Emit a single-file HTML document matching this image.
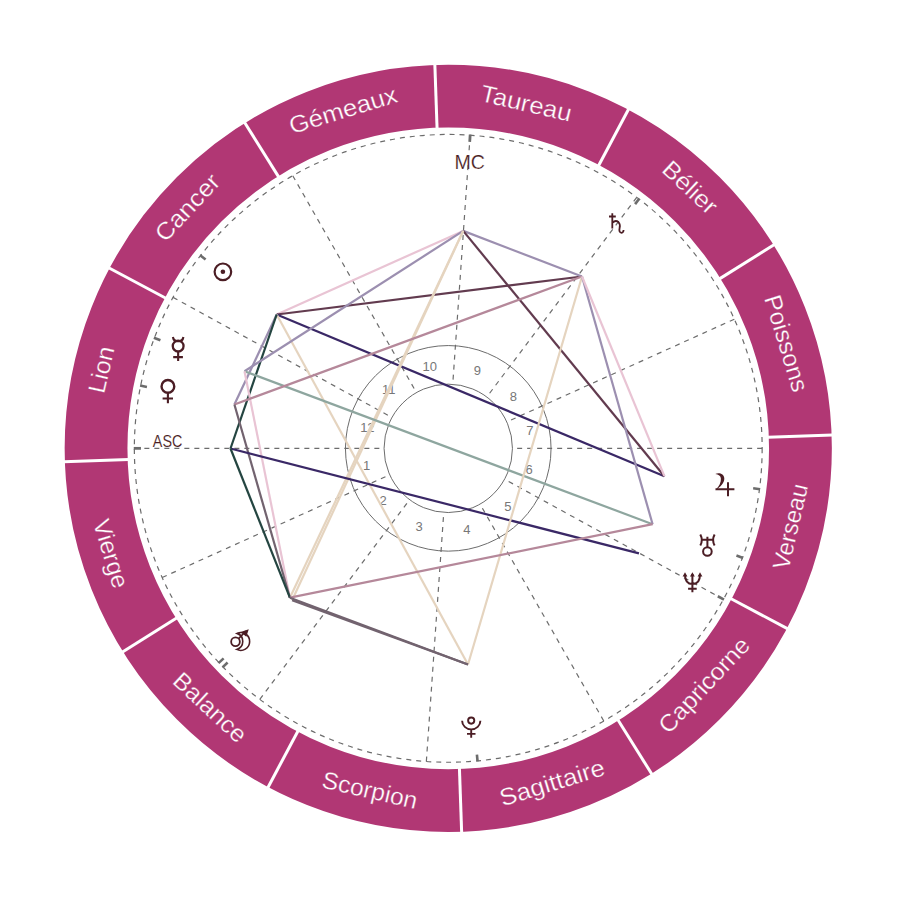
<!DOCTYPE html><html><head><meta charset="utf-8"><style>html,body{margin:0;padding:0;background:#fff;}svg{display:block;}text{font-family:"Liberation Sans",sans-serif;}</style></head><body>
<svg width="897" height="897" viewBox="0 0 897 897">
<circle cx="448.25" cy="448.35" r="352.20" fill="none" stroke="#b13774" stroke-width="62.80"/>
<line x1="767.86" y1="437.19" x2="832.62" y2="434.93" stroke="#fff" stroke-width="3"/>
<line x1="719.46" y1="278.88" x2="774.41" y2="244.54" stroke="#fff" stroke-width="3"/>
<line x1="598.39" y1="165.98" x2="628.81" y2="108.77" stroke="#fff" stroke-width="3"/>
<line x1="437.09" y1="128.74" x2="434.83" y2="63.98" stroke="#fff" stroke-width="3"/>
<line x1="278.78" y1="177.14" x2="244.44" y2="122.19" stroke="#fff" stroke-width="3"/>
<line x1="165.88" y1="298.21" x2="108.67" y2="267.79" stroke="#fff" stroke-width="3"/>
<line x1="128.64" y1="459.51" x2="63.88" y2="461.77" stroke="#fff" stroke-width="3"/>
<line x1="177.04" y1="617.82" x2="122.09" y2="652.16" stroke="#fff" stroke-width="3"/>
<line x1="298.11" y1="730.72" x2="267.69" y2="787.93" stroke="#fff" stroke-width="3"/>
<line x1="459.41" y1="767.96" x2="461.67" y2="832.72" stroke="#fff" stroke-width="3"/>
<line x1="617.72" y1="719.56" x2="652.06" y2="774.51" stroke="#fff" stroke-width="3"/>
<line x1="730.62" y1="598.49" x2="787.83" y2="628.91" stroke="#fff" stroke-width="3"/>
<text transform="translate(785.83 345.14) rotate(73.00)" x="-1.50" y="-1.40" text-anchor="middle" dominant-baseline="central" font-size="24" fill="#fff" stroke="#b13774" stroke-width="0.3" textLength="100.04" lengthAdjust="spacingAndGlyphs">Poissons</text>
<text transform="translate(689.00 190.18) rotate(43.00)" x="-1.06" y="-3.00" text-anchor="middle" dominant-baseline="central" font-size="24" fill="#fff" stroke="#b13774" stroke-width="0.3" textLength="65.67" lengthAdjust="spacingAndGlyphs">Bélier</text>
<text transform="translate(527.66 104.40) rotate(13.00)" x="-1.60" y="-1.10" text-anchor="middle" dominant-baseline="central" font-size="24" fill="#fff" stroke="#b13774" stroke-width="0.3" textLength="92.84" lengthAdjust="spacingAndGlyphs">Taureau</text>
<text transform="translate(345.04 110.77) rotate(-17.00)" x="-1.80" y="-1.50" text-anchor="middle" dominant-baseline="central" font-size="24" fill="#fff" stroke="#b13774" stroke-width="0.3" textLength="111.90" lengthAdjust="spacingAndGlyphs">Gémeaux</text>
<text transform="translate(190.08 207.60) rotate(-47.00)" x="-1.80" y="-2.30" text-anchor="middle" dominant-baseline="central" font-size="24" fill="#fff" stroke="#b13774" stroke-width="0.3" textLength="82.58" lengthAdjust="spacingAndGlyphs">Cancer</text>
<text transform="translate(104.30 368.94) rotate(-77.00)" x="-1.25" y="-3.00" text-anchor="middle" dominant-baseline="central" font-size="24" fill="#fff" stroke="#b13774" stroke-width="0.3" textLength="47.38" lengthAdjust="spacingAndGlyphs">Lion</text>
<text transform="translate(110.67 551.56) rotate(73.00)" x="2.10" y="0.00" text-anchor="middle" dominant-baseline="central" font-size="24" fill="#fff" stroke="#b13774" stroke-width="0.3" textLength="70.66" lengthAdjust="spacingAndGlyphs">Vierge</text>
<text transform="translate(207.50 706.52) rotate(43.00)" x="2.50" y="-1.40" text-anchor="middle" dominant-baseline="central" font-size="24" fill="#fff" stroke="#b13774" stroke-width="0.3" textLength="90.81" lengthAdjust="spacingAndGlyphs">Balance</text>
<text transform="translate(368.84 792.30) rotate(13.00)" x="0.60" y="-2.65" text-anchor="middle" dominant-baseline="central" font-size="24" fill="#fff" stroke="#b13774" stroke-width="0.3" textLength="97.13" lengthAdjust="spacingAndGlyphs">Scorpion</text>
<text transform="translate(551.46 785.93) rotate(-17.00)" x="1.50" y="-3.20" text-anchor="middle" dominant-baseline="central" font-size="24" fill="#fff" stroke="#b13774" stroke-width="0.3" textLength="108.65" lengthAdjust="spacingAndGlyphs">Sagittaire</text>
<text transform="translate(706.42 689.10) rotate(-47.00)" x="1.26" y="-4.77" text-anchor="middle" dominant-baseline="central" font-size="24" fill="#fff" stroke="#b13774" stroke-width="0.3" textLength="121.38" lengthAdjust="spacingAndGlyphs">Capricorne</text>
<text transform="translate(792.20 527.76) rotate(-77.00)" x="0.80" y="-2.40" text-anchor="middle" dominant-baseline="central" font-size="24" fill="#fff" stroke="#b13774" stroke-width="0.3" textLength="87.14" lengthAdjust="spacingAndGlyphs">Verseau</text>
<circle cx="448.25" cy="448.35" r="313.9" fill="none" stroke="#6c6c6c" stroke-width="1.2" stroke-dasharray="5 5"/>
<circle cx="448.25" cy="448.35" r="64.2" fill="none" stroke="#6c6c6c" stroke-width="1"/>
<circle cx="448.25" cy="448.35" r="102.8" fill="none" stroke="#6c6c6c" stroke-width="1"/>
<line x1="134.35" y1="448.35" x2="384.05" y2="448.35" stroke="#6c6c6c" stroke-width="1.2" stroke-dasharray="5 5"/>
<line x1="162.16" y1="577.52" x2="389.74" y2="474.77" stroke="#6c6c6c" stroke-width="1.2" stroke-dasharray="5 5"/>
<line x1="259.78" y1="699.37" x2="409.70" y2="499.69" stroke="#6c6c6c" stroke-width="1.2" stroke-dasharray="5 5"/>
<line x1="426.35" y1="761.49" x2="443.77" y2="512.39" stroke="#6c6c6c" stroke-width="1.2" stroke-dasharray="5 5"/>
<line x1="603.77" y1="721.01" x2="480.06" y2="504.12" stroke="#6c6c6c" stroke-width="1.2" stroke-dasharray="5 5"/>
<line x1="723.45" y1="599.33" x2="504.54" y2="479.23" stroke="#6c6c6c" stroke-width="1.2" stroke-dasharray="5 5"/>
<line x1="762.15" y1="448.35" x2="512.45" y2="448.35" stroke="#6c6c6c" stroke-width="1.2" stroke-dasharray="5 5"/>
<line x1="734.34" y1="319.18" x2="506.76" y2="421.93" stroke="#6c6c6c" stroke-width="1.2" stroke-dasharray="5 5"/>
<line x1="636.72" y1="197.33" x2="486.80" y2="397.01" stroke="#6c6c6c" stroke-width="1.2" stroke-dasharray="5 5"/>
<line x1="470.15" y1="135.21" x2="452.73" y2="384.31" stroke="#6c6c6c" stroke-width="1.2" stroke-dasharray="5 5"/>
<line x1="292.73" y1="175.69" x2="416.44" y2="392.58" stroke="#6c6c6c" stroke-width="1.2" stroke-dasharray="5 5"/>
<line x1="173.05" y1="297.37" x2="391.96" y2="417.47" stroke="#6c6c6c" stroke-width="1.2" stroke-dasharray="5 5"/>
<text x="366.62" y="465.92" text-anchor="middle" dominant-baseline="central" font-size="13" fill="#777">1</text>
<text x="383.08" y="500.56" text-anchor="middle" dominant-baseline="central" font-size="13" fill="#777">2</text>
<text x="419.08" y="526.59" text-anchor="middle" dominant-baseline="central" font-size="13" fill="#777">3</text>
<text x="466.82" y="529.76" text-anchor="middle" dominant-baseline="central" font-size="13" fill="#777">4</text>
<text x="507.78" y="506.90" text-anchor="middle" dominant-baseline="central" font-size="13" fill="#777">5</text>
<text x="529.14" y="469.08" text-anchor="middle" dominant-baseline="central" font-size="13" fill="#777">6</text>
<text x="529.88" y="430.78" text-anchor="middle" dominant-baseline="central" font-size="13" fill="#777">7</text>
<text x="513.42" y="396.14" text-anchor="middle" dominant-baseline="central" font-size="13" fill="#777">8</text>
<text x="477.42" y="370.11" text-anchor="middle" dominant-baseline="central" font-size="13" fill="#777">9</text>
<text x="429.68" y="366.94" text-anchor="middle" dominant-baseline="central" font-size="13" fill="#777">10</text>
<text x="388.72" y="389.80" text-anchor="middle" dominant-baseline="central" font-size="13" fill="#777">11</text>
<text x="367.36" y="427.62" text-anchor="middle" dominant-baseline="central" font-size="13" fill="#777">12</text>
<line x1="276.70" y1="314.50" x2="463.20" y2="230.90" stroke="#e9c4d4" stroke-width="2.2"/>
<line x1="276.70" y1="314.50" x2="582.00" y2="276.50" stroke="#623b4f" stroke-width="2.2"/>
<line x1="276.70" y1="314.50" x2="664.40" y2="476.20" stroke="#3a2866" stroke-width="2.2"/>
<line x1="276.70" y1="314.50" x2="468.00" y2="664.50" stroke="#e5d4bf" stroke-width="2.2"/>
<line x1="276.70" y1="314.50" x2="234.40" y2="404.50" stroke="#9c8fb0" stroke-width="2.2"/>
<line x1="276.70" y1="314.50" x2="230.50" y2="448.50" stroke="#244541" stroke-width="2.2"/>
<line x1="463.20" y1="230.90" x2="244.50" y2="371.20" stroke="#9c8fb0" stroke-width="2.2"/>
<line x1="463.20" y1="230.90" x2="582.00" y2="276.50" stroke="#9c8fb0" stroke-width="2.2"/>
<line x1="463.20" y1="230.90" x2="664.40" y2="476.20" stroke="#623b4f" stroke-width="2.2"/>
<line x1="463.20" y1="230.90" x2="289.90" y2="597.70" stroke="#e5d4bf" stroke-width="2.2"/>
<line x1="463.20" y1="230.90" x2="292.10" y2="600.20" stroke="#e5d4bf" stroke-width="2.2"/>
<line x1="244.50" y1="371.20" x2="652.60" y2="524.20" stroke="#8ea69f" stroke-width="2.2"/>
<line x1="244.50" y1="371.20" x2="289.90" y2="597.70" stroke="#e9c4d4" stroke-width="2.2"/>
<line x1="234.40" y1="404.50" x2="582.00" y2="276.50" stroke="#b5889a" stroke-width="2.2"/>
<line x1="234.40" y1="404.50" x2="289.90" y2="597.70" stroke="#72636f" stroke-width="2.2"/>
<line x1="230.50" y1="448.50" x2="639.00" y2="553.40" stroke="#3a2866" stroke-width="2.2"/>
<line x1="230.50" y1="448.50" x2="289.90" y2="597.70" stroke="#244541" stroke-width="2.2"/>
<line x1="582.00" y1="276.50" x2="468.00" y2="664.50" stroke="#e5d4bf" stroke-width="2.2"/>
<line x1="582.00" y1="276.50" x2="652.60" y2="524.20" stroke="#9c8fb0" stroke-width="2.2"/>
<line x1="582.00" y1="276.50" x2="664.40" y2="476.20" stroke="#e9c4d4" stroke-width="2.2"/>
<line x1="652.60" y1="524.20" x2="289.90" y2="597.70" stroke="#b5889a" stroke-width="2.2"/>
<line x1="468.00" y1="664.50" x2="289.90" y2="597.70" stroke="#72636f" stroke-width="2.2"/>
<line x1="468.00" y1="664.50" x2="292.10" y2="600.20" stroke="#72636f" stroke-width="2.2"/>
<line x1="205.61" y1="259.46" x2="200.08" y2="255.16" stroke="#6c6c6c" stroke-width="2.6"/>
<line x1="160.41" y1="340.16" x2="153.86" y2="337.70" stroke="#6c6c6c" stroke-width="2.6"/>
<line x1="146.94" y1="386.94" x2="140.09" y2="385.54" stroke="#6c6c6c" stroke-width="2.6"/>
<line x1="635.10" y1="204.13" x2="639.36" y2="198.57" stroke="#6c6c6c" stroke-width="2.6"/>
<line x1="753.15" y1="488.27" x2="760.09" y2="489.18" stroke="#6c6c6c" stroke-width="2.6"/>
<line x1="736.45" y1="555.59" x2="743.01" y2="558.03" stroke="#6c6c6c" stroke-width="2.6"/>
<line x1="717.84" y1="596.25" x2="723.98" y2="599.62" stroke="#6c6c6c" stroke-width="2.6"/>
<line x1="476.92" y1="754.51" x2="477.57" y2="761.48" stroke="#6c6c6c" stroke-width="2.6"/>
<line x1="223.62" y1="658.34" x2="218.50" y2="663.12" stroke="#6c6c6c" stroke-width="2.6"/>
<line x1="227.58" y1="662.50" x2="222.55" y2="667.37" stroke="#6c6c6c" stroke-width="2.6"/>
<line x1="140.95" y1="448.35" x2="133.75" y2="448.35" stroke="#6c6c6c" stroke-width="2.8"/>
<line x1="469.69" y1="141.80" x2="470.19" y2="134.62" stroke="#6c6c6c" stroke-width="2.8"/>
<text x="469.7" y="169.1" text-anchor="middle" font-size="20.5" fill="#4b1d24" textLength="30.5" lengthAdjust="spacingAndGlyphs" stroke="#fff" stroke-width="0.15" paint-order="fill">MC</text>
<text x="167.6" y="446.6" text-anchor="middle" font-size="16" fill="#4b1d24" textLength="29.5" lengthAdjust="spacingAndGlyphs" stroke="#fff" stroke-width="0.1" paint-order="fill">ASC</text>
<g fill="none" stroke="#4b1d24" stroke-width="2.1" stroke-linecap="butt">
<circle cx="222.9" cy="271.8" r="8.3" stroke-width="2.2"/><circle cx="222.9" cy="271.8" r="2.3" fill="#4b1d24" stroke="none"/>
<circle cx="178.15" cy="346.1" r="5.4" stroke-width="2.3"/><path d="M172.9,337.0 A5.3,5.0 0 0 0 183.4,337.0 M178.15,351.6 V360.9 M173.2,357.1 H182.9"/>
<circle cx="167.9" cy="386.4" r="6.35" stroke-width="2.4"/><path d="M167.9,392.8 V403.2 M162.6,398.5 H173"/>
<circle cx="235.5" cy="641.7" r="4.35" stroke-width="1.8"/><path d="M238.6,638.6 L246,631" stroke-width="1.7"/>
<path d="M248.75,629.2 L240.6,632.0 L246.3,636.7 Z" fill="#4b1d24" stroke="none"/>
<path d="M237.04,633.37 A8.9,8.9 0 1 1 236.7,649.4 A8.4,8.4 0 0 0 237.04,633.37 Z" stroke-width="1.6" stroke-linejoin="miter"/>
<path d="M715.3,474 C718.5,472 724.2,473.5 724.3,478.5 C724.4,483 720.5,486.8 715.6,490.3 L716.8,488.6 C719,486.3 721.1,482.5 720.9,478.8 C720.8,475.8 718.5,474.6 715.3,474 Z" fill="#4b1d24" stroke="none"/>
<path d="M715.5,489.3 H734.4 M728,482.2 V496.3" stroke-width="2"/>
<path d="M612.3,213.2 V228.6 M609,216.5 H615.8 M612.3,222.8 Q615.5,219.6 618.4,222 Q620.6,224.5 619.6,228 Q618.6,232.6 621.6,232.8 Q623.4,232.6 623.6,230" stroke-width="1.8"/>
<path d="M700.3,534.4 Q703.3,539.9 700.3,545.5 M714.6,534.4 Q711.6,539.9 714.6,545.5 M702.1,539.7 H712.8 M707.4,536.7 V547.2" stroke-width="2"/><circle cx="707.4" cy="551.5" r="4.3" stroke-width="2"/>
<path d="M685,574.5 Q685,584.1 692.4,584.1 Q700,584.1 700,574.5 M692.4,574 V592.3 M688.1,588.8 H696.7" stroke-width="2"/>
<path d="M685,572.3 L682.6,576.4 L687.4,576.4 Z M692.4,572.3 L690,576.4 L694.8,576.4 Z M700,572.3 L697.6,576.4 L702.4,576.4 Z" fill="#4b1d24" stroke="none"/>
<circle cx="471.2" cy="720.6" r="3.1" stroke-width="1.9"/><path d="M462.1,720.8 A9.1,8.5 0 0 0 480.4,720.8 M471.2,729.3 V737.7 M467,733.9 H475.5" stroke-width="1.9"/>
</g>
</svg></body></html>
